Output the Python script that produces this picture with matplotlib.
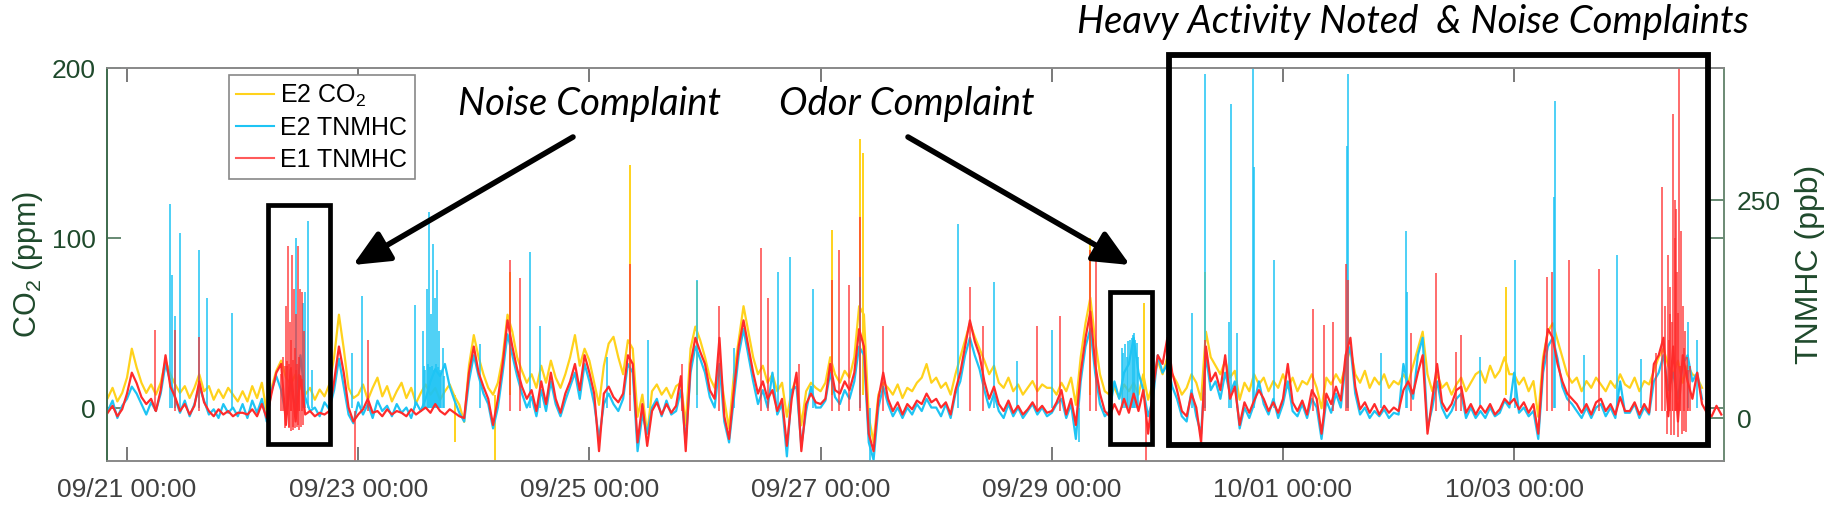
import matplotlib
matplotlib.use('Agg')
import matplotlib.pyplot as plt
import matplotlib.dates as mdates
from matplotlib.patches import Rectangle, FancyArrowPatch
from matplotlib.lines import Line2D
import numpy as np
import pandas as pd

plt.rcParams['font.family'] = ['Liberation Sans', 'DejaVu Sans']
plt.rcParams['mathtext.default'] = 'regular'

# hourly readings starting 09/20 20:00
hours = pd.date_range('2016-09-20 20:00', periods=336, freq='h')

# E2 CO2 (ppm)
co2_e2 = [
    6, 12, 4, 9,
    18, 35, 24, 15, 9, 14, 8, 15, 28, 20, 14, 9, 13, 6, 12, 20, 10, 13, 5, 11, 6, 12, 8, 4,
    10, 4, 13, 6, 15, -2, 12, 22, 28, 18, 14, 20, 12, 8, 12, 5, 11, 7, 14, 30, 55, 35, 12, 6,
    8, 14, 5, 12, 18, 7, 13, 4, 10, 15, 6, 12, 3, 9, 14, 8, 12, 5, 10, 14, 7, 2, -8, 25,
    43, 30, 20, 12, 8, 15, 30, 55, 45, 30, 22, 15, 20, 12, 25, 15, 28, 18, 12, 20, 30, 43, 25, 35,
    28, 15, 2, 25, 38, 42, 30, 20, 40, 35, -5, 8, -15, 10, 14, 8, 12, 6, 13, 15, -10, 35, 48, 40,
    30, 18, 12, 25, 5, -12, 20, 40, 60, 45, 30, 20, 25, 15, 20, 10, 15, -5, 10, 18, -10, 10, 15, 12,
    10, 15, 30, 20, 15, 22, 18, 30, 60, 55, -5, -20, 8, 15, 12, 8, 14, 6, 12, 10, 15, 18, 26, 15,
    18, 12, 15, 8, 20, 30, 40, 50, 42, 35, 28, 20, 25, 15, 12, 18, 10, 14, 8, 12, 16, 10, 14, 12,
    12, 8, 15, 10, 18, 2, 30, 50, 65, 40, 20, 10, 8, 12, 6, 14, 10, 15, 8, 20, 5, 15, 28, 20,
    30, 20, 15, 8, 12, 20, 15, 5, 45, 30, 25, 20, 28, 18, 22, 5, 15, 10, 20, 14, 18, 10, 16, 12,
    20, 12, 18, 10, 16, 14, 20, 12, 0, 18, 14, 20, 15, 25, 35, 20, 15, 22, 12, 18, 14, 20, 12, 16,
    14, 20, 15, 25, 35, 45, 20, 10, 20, 12, 15, 8, 14, 18, 10, 15, 20, 22, 15, 25, 18, 22, 30, 20,
    20, 14, 18, 10, 16, -5, 30, 45, 50, 40, 30, 20, 15, 18, 10, 16, 12, 18, 14, 10, 16, 12, 20, 14,
    12, 18, 10, 16, 14, 22, 30, 35, 25, 20, 28, 15, 25, 20, 18, 12,
]

# E2 TNMHC (ppb)
tnmhc_e2 = [
    8, 20, 0, 14,
    22, 36, 28, 16, 4, 18, 8, 28, 62, 42, 22, 6, 20, 2, 16, 36, 20, 4, 10, 0, 16, 6, 12, 2,
    16, 0, 20, 6, 22, -4, 32, 48, 32, 4, 40, 8, 72, 24, 8, 12, 2, 18, 10, 32, 68, 36, 4, -6,
    18, 4, 16, 0, 20, 8, 14, 2, 16, 6, 12, 0, 18, 8, 22, 42, 56, 48, 62, 36, 20, 6, -4, 42,
    72, 48, 28, 16, -12, 12, 52, 96, 72, 48, 28, 12, 24, 2, 32, 8, 42, 16, 2, 20, 36, 52, 22, 62,
    42, 16, -24, 16, 28, 16, 8, 22, 62, 52, -38, 4, -18, 12, 22, 2, 20, 4, 8, 32, -28, 52, 82, 68,
    52, 24, 12, 62, -4, -28, 22, 72, 102, 72, 42, 16, 32, 12, 52, 4, 16, -44, 32, 36, -32, 8, 36, 12,
    12, 20, 52, 24, 16, 32, 22, 42, 82, 72, -28, -48, 12, 36, 16, 2, 12, 0, 12, 4, 16, 8, 22, 12,
    12, 2, 16, 0, 28, 42, 72, 92, 72, 56, 32, 12, 28, 8, 0, 16, 2, 12, 0, 8, 16, 4, 12, 2,
    6, 16, 22, 0, 16, -24, 42, 82, 102, 52, 16, 2, 8, 42, 22, 52, 62, 92, 52, 32, 2, 22, 72, 52,
    62, 36, 22, 2, -4, 32, 2, -18, 72, 32, 42, 22, 52, 28, 42, -12, 12, 0, 16, 42, 16, 4, 22, 0,
    16, 42, 8, 2, 16, 0, 22, 12, -24, 20, 6, 28, 12, 62, 82, 28, 4, 12, 0, 8, 2, 10, 0, 6,
    4, 62, 36, 22, 72, 92, -12, 12, 42, 12, 0, 8, 22, 28, 0, 12, 0, 8, 0, 12, 2, 6, 20, 12,
    52, 6, 12, 2, 8, -24, 52, 82, 92, 68, 36, 22, 16, 8, 0, 12, 0, 12, 16, 2, 12, 0, 42, 6,
    6, 16, 0, 12, 4, 42, 52, 72, 32, 52, 22, 62, 72, 42, 52, 22,
]

# E1 TNMHC (ppb)
tnmhc_e1 = [
    6, 14, 2, 10,
    28, 52, 40, 24, 16, 22, 8, 32, 72, 36, 24, 8, 16, 4, 14, 42, 18, 8, 2, 10, 4, 8, 2, 6,
    6, 4, 10, 2, 16, 0, 28, 52, 62, -8, 56, -4, 48, 4, 8, 2, 6, 4, 8, 42, 82, 52, 12, -4,
    4, 10, 22, 6, 8, 2, 10, 4, 8, 6, 2, 10, 4, 8, 12, 6, 16, 8, 4, 10, 6, 2, 0, 52,
    82, 52, 36, 22, -8, 22, 62, 112, 82, 56, 36, 22, 32, 8, 42, 16, 52, 22, 6, 28, 42, 62, 32, 72,
    52, 28, -38, 28, 36, 24, 18, 28, 72, 62, -28, 16, -32, 8, 18, 4, 16, 6, 14, 48, -38, 62, 92, 76,
    62, 32, 22, 92, 2, -24, 32, 82, 112, 82, 52, 28, 42, 22, 32, 8, 22, -32, 22, 52, -38, 16, 28, 18,
    16, 22, 62, 32, 28, 42, 32, 52, 102, 82, -18, -38, 22, 52, 22, 8, 18, 4, 16, 10, 20, 16, 28, 18,
    22, 12, 18, 4, 32, 52, 82, 112, 88, 72, 42, 22, 36, 16, 8, 20, 6, 14, 4, 10, 18, 8, 14, 6,
    8, 18, 32, 4, 22, -8, 52, 92, 122, 62, 28, 8, 2, 16, 4, 22, 6, 28, 8, 32, -18, 32, 72, 62,
    92, 52, 32, 8, 2, 28, 12, -28, 82, 42, 52, 32, 72, 22, 36, -8, 18, 6, 20, 32, 22, 8, 18, 6,
    22, 62, 18, 8, 20, 4, 32, 22, -18, 28, 16, 36, 20, 72, 92, 36, 10, 18, 6, 16, 4, 14, 6, 12,
    8, 32, 42, 28, 52, 72, -18, 22, 62, 18, 8, 16, 32, 36, 6, 16, 4, 14, 6, 16, 4, 10, 22, 16,
    22, 10, 18, 6, 16, -18, 62, 102, 92, 62, 42, 28, 22, 16, 6, 16, 4, 18, 22, 8, 16, 4, 24, 8,
    8, 18, 4, 16, 6, 62, 72, 92, 2, 82, -4, 72, 42, 22, 52, 16, 6, 2, 14, 4,
]

# short spikes: days after 09/21 00:00 and peak value
co2_spike_t = [2.837, 3.183, 3.313, 4.351, 4.931, 6.099, 6.341, 6.367, 8.330, 8.798, 9.325, 11.929]
co2_spike_v = [-20, -31, 80, 143, 75, 105, 158, 150, 100, 62, 80, 71]

e2_spike_t = [0.372, 0.389, 0.415, 0.458, 0.623, 0.692, 0.908, 1.462, 1.522, 1.540, 1.566, 1.60,
              1.95, 2.033, 2.491, 2.561, 2.595, 2.612, 2.630, 2.647, 2.664, 2.682, 2.699, 2.734,
              3.05, 3.486, 3.573, 4.15, 4.507, 4.931, 5.25, 5.631, 5.735, 5.934, 6.341, 6.427,
              7.189, 7.500, 7.70, 8.002, 8.235, 8.607, 8.650, 8.676, 8.711, 8.737,
              9.213, 9.325, 9.533, 9.550, 9.602, 9.740, 9.750, 9.922, 10.553, 10.562, 10.85,
              11.064, 11.075, 11.70, 12.007, 12.345, 12.353, 12.60, 12.889, 13.10, 13.503, 13.581,
              2.57, 2.58, 2.60, 2.62, 2.64, 2.655, 2.67, 2.69, 2.71, 2.72, 2.74,
              8.62, 8.63, 8.66, 8.69, 8.70, 8.72, 8.745]
e2_spike_v = [246, 164, 117, 212, 193, 138, 121, 207, 132, 144, 226, 55,
              75, 140, 130, 100, 148, 236, 119, 200, 138, 170, 100, 80,
              85, 190, 105, 70, 90, 158, 80, 168, 185, 148, 162, -49,
              222, 156, 65, 101, -27, 80, 70, 90, 97, 86,
              121, 395, 110, 360, 97, 401, 288, 181, 312, 394, 75,
              214, 144, 70, 181, 254, 364, 72, 187, 68, 110, 90,
              60, 55, 62, 58, 60, 55, 62, 58, 55, 50, 48,
              75, 85, 88, 92, 95, 90, 70]

e1_spike_t = [0.242, 0.415, 0.623, 1.332, 1.349, 1.375, 1.384, 1.393, 1.40, 1.410, 1.419, 1.427,
              1.44, 1.445, 1.453, 1.462, 1.479, 1.48, 1.488, 1.497, 1.514, 1.531, 1.972, 2.085,
              3.313, 3.400, 4.351, 4.801, 5.121, 5.484, 5.545, 5.813, 6.099, 6.159, 6.246, 6.341,
              6.540, 7.293, 7.405, 7.872, 8.071, 8.330, 8.382, 8.815, 9.005, 9.325, 10.260,
              10.355, 10.433, 10.545, 10.562, 11.107, 11.324, 11.497, 11.540, 12.284, 12.327,
              12.474, 12.734, 13.227, 13.279, 13.305, 13.331, 13.348, 13.35, 13.36, 13.374,
              13.391, 13.39, 13.40, 13.408, 13.42, 13.426, 13.443, 13.460, 13.47, 13.478,
              13.495, 13.521,
              1.365, 1.37, 1.388, 1.398, 1.405, 1.415, 1.423, 1.432, 1.437, 1.45, 1.458, 1.467,
              1.472, 1.485, 1.492, 1.505, 1.51, 1.52,
              13.32, 13.34, 13.365, 13.38, 13.415, 13.435, 13.45, 13.465, 13.49, 13.50]
e1_spike_v = [101, 101, 93, 51, 70, 128, 60, 197, -10, 110, 90, 187,
              -14, 148, 80, 119, 197, -8, 70, 148, 144, 100, -49, 90,
              181, 160, 177, 62, 128, 195, 138, 62, 158, 193, 152, 230,
              105, 150, 105, 105, 117, 193, 197, -49, 93, 90, 125,
              107, 110, 177, 158, 97, 166, 76, 95, 162, 168,
              181, 171, 74, 265, 128, 187, 119, 150, -20, 349,
              207, 250, 240, 168, 120, 401, 214, 128, -15, 100,
              70, 60,
              60, -12, 65, -12, 62, -15, 58, -10, 66, -12, 55, -10,
              62, -14, 50, -10, 45, -8,
              -18, 90, 110, -20, -22, 60, -18, 80, -16, 55]

assert len(co2_e2) == 332 and len(tnmhc_e2) == 332 and len(tnmhc_e1) == 336
assert len(e1_spike_t) == len(e1_spike_v) and len(e2_spike_t) == len(e2_spike_v)

xtick_days = pd.date_range('2016-09-21', periods=7, freq='2D')

yellow = '#ffd21c'
cyan = '#1ec4f4'
red = '#ff2b2b'
green = '#1f4a2c'
W, H = 1830, 507

fig = plt.figure(figsize=(W / 100, H / 100), dpi=100)
ax1 = fig.add_axes([107 / W, 1 - 461 / H, (1724 - 107) / W, (461 - 68) / H])
ax2 = ax1.twinx()

x_hours = mdates.date2num(hours.to_pydatetime())
x0 = mdates.date2num(pd.Timestamp('2016-09-21').to_pydatetime())

ax1.plot(x_hours[:len(co2_e2)], co2_e2, color=yellow, lw=1.6)
ax1.vlines(x0 + np.array(co2_spike_t), 8, co2_spike_v, color=yellow, lw=1.4)

ax2.plot(x_hours[:len(tnmhc_e2)], tnmhc_e2, color=cyan, lw=1.6)
ax2.vlines(x0 + np.array(e2_spike_t), 12, e2_spike_v, color=cyan, lw=1.3, alpha=0.85)
ax2.plot(x_hours, tnmhc_e1, color=red, lw=1.6)
ax2.vlines(x0 + np.array(e1_spike_t), 8, e1_spike_v, color=red, lw=1.3, alpha=0.75)

ax1.set_xlim(x0 - 0.173, x0 + 13.815)
ax1.set_ylim(-31, 200)
ax2.set_ylim(-49.3, 401.4)
ax1.set_yticks([0, 100, 200])
ax2.set_yticks([0, 250])
ax1.set_xticks(mdates.date2num(xtick_days.to_pydatetime()))
ax1.xaxis.set_major_formatter(mdates.DateFormatter('%m/%d %H:%M'))

ax1.tick_params(axis='x', direction='in', length=10, width=1.1, top=True, color='#555555',
                labelcolor='#404040', labelsize=19, pad=12)
ax1.tick_params(axis='y', direction='in', length=10, width=1.1, right=True, color='#3d6a4b',
                labelcolor=green, labelsize=19, pad=8)
ax2.tick_params(axis='y', direction='in', length=10, width=1.1, color='#3d6a4b',
                labelcolor=green, labelsize=19, pad=9)

for ax in (ax1, ax2):
    ax.spines['top'].set_color('#888888')
    ax.spines['bottom'].set_color('#888888')
    ax.spines['left'].set_color('#3d6a4b')
    ax.spines['right'].set_color('#6b8a74')
    for s in ax.spines.values():
        s.set_linewidth(1.2)

ax1.set_ylabel('CO$_2$ (ppm)', fontsize=22, color=green)
ax1.yaxis.set_label_coords((45 - 107) / (1724 - 107), 0.5)
ax2.set_ylabel('TNMHC (ppb)', fontsize=23, color=green)
ax2.yaxis.set_label_coords((1795 - 107) / (1724 - 107), 0.5)

handles = [Line2D([], [], color=yellow, lw=1.5),
           Line2D([], [], color=cyan, lw=1.5),
           Line2D([], [], color='#ff5a5a', lw=1.5)]
leg = ax2.legend(handles, ['E2 CO$_2$', 'E2 TNMHC', 'E1 TNMHC'], loc='upper left',
                 bbox_to_anchor=(229 / W, 1 - 75 / H), bbox_transform=fig.transFigure,
                 fancybox=False, edgecolor='#888888', framealpha=1, fontsize=18,
                 handlelength=1.5, handletextpad=0.25, labelspacing=0.3, borderpad=0.3,
                 borderaxespad=0)
leg.get_frame().set_linewidth(1.2)


def fx(x):
    return x / W


def fy(y):
    return 1 - y / H


# boxes around the complaint periods
for (xa, ya, xb, yb, lw) in [(268, 205, 330, 444, 3.4), (1110, 292, 1152, 444, 3.4),
                             (1169, 55, 1708, 445, 4.2)]:
    fig.add_artist(Rectangle((fx(xa), fy(yb)), (xb - xa) / W, (yb - ya) / H,
                             transform=fig.transFigure, fill=False, ec='black', lw=lw))

for (xa, ya, xb, yb) in [(573, 137, 353, 265), (908, 137, 1130, 265)]:
    fig.add_artist(FancyArrowPatch((fx(xa), fy(ya)), (fx(xb), fy(yb)), transform=fig.transFigure,
                                   arrowstyle='-|>,head_length=0.55,head_width=0.25',
                                   mutation_scale=40, lw=4, color='black',
                                   shrinkA=0, shrinkB=0))

note_font = dict(fontsize=27.5, style='italic', family='Lato', color='black')
fig.text(fx(589), fy(115), 'Noise Complaint', ha='center', va='baseline', **note_font)
fig.text(fx(907), fy(115), 'Odor Complaint', ha='center', va='baseline', **note_font)
fig.text(fx(1413), fy(33), 'Heavy Activity Noted  & Noise Complaints', ha='center',
         va='baseline', **note_font)

fig.savefig('out.png', dpi=100)
